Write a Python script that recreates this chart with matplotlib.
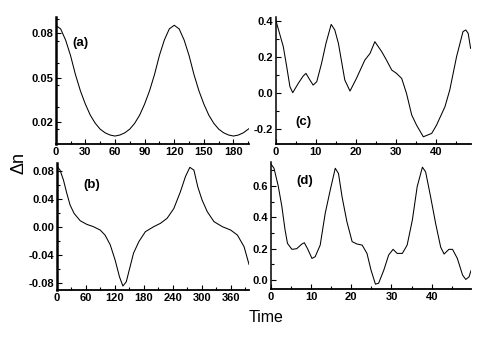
import matplotlib
matplotlib.use('Agg')
from matplotlib import pyplot as plt
from matplotlib.ticker import MultipleLocator

plt.rcParams['font.family'] = ['Liberation Sans', 'DejaVu Sans']

# (a)
ta = [0, 5, 10, 15, 20, 25, 30, 35, 40, 45, 50, 55, 60, 65, 70, 75, 80, 85, 90, 95,
      100, 105, 110, 115, 120, 125, 130, 135, 140, 145, 150, 155, 160, 165, 170,
      175, 180, 185, 190, 196]
va = [0.0855, 0.083, 0.0755, 0.065, 0.052, 0.041, 0.032, 0.0245, 0.019, 0.015,
      0.0125, 0.011, 0.0103, 0.011, 0.0125, 0.015, 0.019, 0.0245, 0.032, 0.041,
      0.052, 0.065, 0.0755, 0.083, 0.0855, 0.083, 0.0755, 0.065, 0.052, 0.041,
      0.032, 0.0245, 0.019, 0.015, 0.0125, 0.011, 0.0103, 0.011, 0.0125, 0.0155]

# (b)
tb = [0, 1.4, 6.9, 13.9, 20.8, 27.7, 36, 48.5, 62.3, 76, 90, 100, 110.8, 121, 130,
      137, 144, 152, 159, 170, 183.5, 200.8, 214.7, 228.5, 242.4, 256, 266.6,
      275.6, 284, 292, 301, 311.6, 325.5, 342.8, 360, 374, 387.8, 398]
vb = [0.086, 0.086, 0.081, 0.067, 0.048, 0.031, 0.019, 0.0086, 0.0033, 0.0,
      -0.0048, -0.012, -0.026, -0.048, -0.072, -0.085, -0.079, -0.057, -0.038,
      -0.0215, -0.0072, 0.0, 0.0048, 0.012, 0.026, 0.05, 0.072, 0.085, 0.081,
      0.057, 0.038, 0.0215, 0.0072, 0.0, -0.0048, -0.012, -0.0287, -0.054]

# (c)
tc = [0, 1.95, 2.8, 3.6, 4.3, 5.7, 6.9, 7.6, 8.6, 9.4, 10.3, 11.5, 12.6, 13.9,
      14.8, 15.7, 16.5, 17.3, 18.6, 20.2, 22.3, 23.6, 24.8, 26.5, 27.7, 29.0,
      30.2, 31.5, 32.7, 34.0, 35.2, 36.9, 39.0, 40.2, 42.3, 43.5, 45.2, 46.8,
      47.5, 48.1, 48.7]
vc = [0.41, 0.257, 0.146, 0.035, 0.002, 0.054, 0.094, 0.109, 0.072, 0.044,
      0.063, 0.165, 0.276, 0.381, 0.35, 0.276, 0.174, 0.072, 0.011, 0.081, 0.183,
      0.22, 0.285, 0.23, 0.183, 0.128, 0.109, 0.081, -0.002, -0.122, -0.178,
      -0.243, -0.224, -0.178, -0.076, 0.017, 0.202, 0.341, 0.35, 0.331, 0.248]

# (d)
td = [0, 0.75, 1.8, 2.7, 3.5, 4.1, 5.2, 6.4, 7.7, 8.3, 9.1, 10.2, 11.0, 12.25,
      13.5, 14.75, 16.0, 16.8, 17.7, 18.9, 20.2, 21.4, 22.7, 23.9, 24.9, 26.0,
      26.8, 28.1, 29.3, 30.4, 31.4, 32.7, 33.9, 35.2, 36.4, 37.7, 38.5, 39.75,
      41.0, 42.25, 43.1, 44.3, 45.2, 46.4, 47.7, 48.5, 49.3, 49.8]
vd = [0.74, 0.713, 0.6, 0.47, 0.32, 0.234, 0.196, 0.2, 0.23, 0.238, 0.2, 0.138,
      0.149, 0.223, 0.426, 0.574, 0.713, 0.68, 0.53, 0.372, 0.245, 0.23, 0.223,
      0.17, 0.064, -0.026, -0.02, 0.064, 0.16, 0.196, 0.17, 0.17, 0.223, 0.383,
      0.596, 0.72, 0.69, 0.53, 0.36, 0.21, 0.166, 0.196, 0.196, 0.138, 0.032,
      0.004, 0.02, 0.06]

fig = plt.figure(figsize=(4.98, 3.45), dpi=100)

W, H = 498.0, 345.0


def add_ax(left, right, top, bottom):
    return fig.add_axes([left / W, 1 - bottom / H, (right - left) / W, (bottom - top) / H])


ax_a = add_ax(55.7, 249.3, 17, 144)
ax_c = add_ax(275.5, 471, 17, 144)
ax_b = add_ax(56.7, 249, 163, 290)
ax_d = add_ax(271, 471, 162, 289)

# ax, t, v, xlim, ylim, yticks, y minor, x major, x minor, fmt, label, label pos, left spine width
panels = [
    (ax_a, ta, va, (0, 196), (0.0049, 0.0911), [0.02, 0.05, 0.08], 0.015, 30, 15, '%.2f', '(a)', (80, 43), 1.8),
    (ax_b, tb, vb, (0, 398), (-0.0907, 0.0912), [-0.08, -0.04, 0.0, 0.04, 0.08], 0.02, 60, 30, '%.2f', '(b)', (92, 185), 1.8),
    (ax_c, tc, vc, (0, 48.8), (-0.283, 0.422), [-0.2, 0.0, 0.2, 0.4], 0.1, 10, 5, '%.1f', '(c)', (303, 122), 1.1),
    (ax_d, td, vd, (0, 49.8), (-0.057, 0.753), [0.0, 0.2, 0.4, 0.6], 0.1, 10, 5, '%.1f', '(d)', (305, 181), 1.1),
]

for ax, t, v, xl, yl, yt, ymin, xmaj, xmin, fmt, lab, pos, lw in panels:
    ax.plot(t, v, color='black', lw=0.75)
    ax.set_xlim(xl)
    ax.set_ylim(yl)
    ax.set_yticks(yt)
    ax.set_yticklabels([fmt % y for y in yt])
    ax.yaxis.set_minor_locator(MultipleLocator(ymin))
    ax.xaxis.set_major_locator(MultipleLocator(xmaj))
    ax.xaxis.set_minor_locator(MultipleLocator(xmin))
    ax.spines['top'].set_visible(False)
    ax.spines['right'].set_visible(False)
    ax.spines['left'].set_linewidth(lw)
    ax.spines['bottom'].set_linewidth(1.3)
    ax.tick_params(which='both', direction='in', width=0.8, pad=2,
                   labelsize=8, top=False, right=False)
    ax.tick_params(which='major', length=3.5)
    ax.tick_params(which='minor', length=2)
    for tl in ax.get_xticklabels() + ax.get_yticklabels():
        tl.set_fontweight('bold')
    fig.text(pos[0] / W, 1 - pos[1] / H, lab, fontsize=9.5, fontweight='bold',
             ha='center', va='center')

fig.text(19 / W, 1 - 163 / H, '\u0394n', fontsize=13, rotation=90, ha='center', va='center')
fig.text(266 / W, 1 - 317 / H, 'Time', fontsize=11.5, ha='center', va='center')

fig.savefig('out.png', dpi=100)
